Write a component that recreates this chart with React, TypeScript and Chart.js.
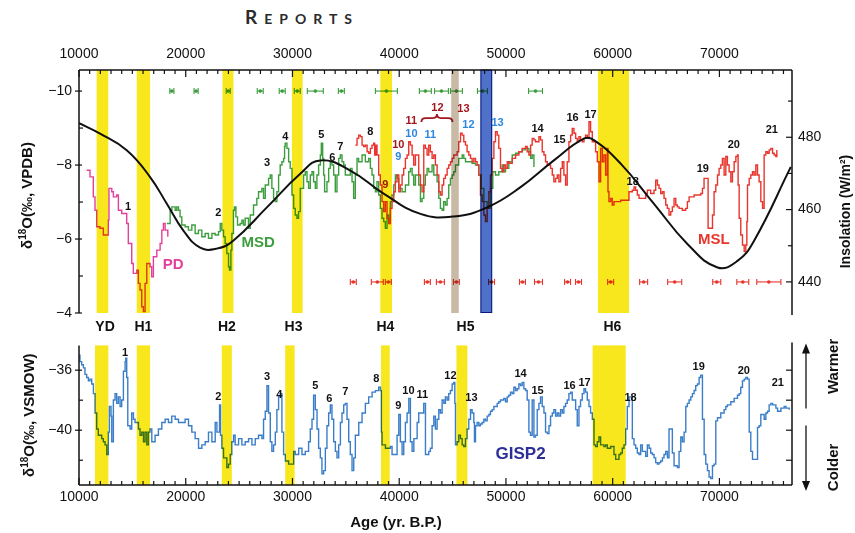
import React, { useEffect, useRef } from 'react';
import { Chart, registerables } from 'chart.js';
Chart.register(...registerables);

const FONT = '"Liberation Sans", Arial, Helvetica, sans-serif';

// ---------- axis ranges / ticks ----------
const AGE_MIN = 10000;
const AGE_MAX = 76800;
const AGE_TICKS = [10000, 20000, 30000, 40000, 50000, 60000, 70000];
const VPDB_TICKS = [-10, -8, -6, -4];
const VPDB_MINOR = [-9, -7, -5];
const INS_TICKS = [440, 460, 480];
const INS_MINOR = [450, 470, 490];
const VSMOW_TICKS = [-36, -40];
const VSMOW_MINOR = [-38, -42];

// ---------- series (age yr B.P., value) ----------
const PD: [number, number][] = [
  [10720, -7.86], [11030, -7.68], [11340, -7.14], [11500, -6.78], [11660, -6.33], [11970, -6.29], [12280, -6.11],
  [12600, -6.11], [12750, -6.51], [12810, -7.37], [13070, -7.28], [13220, -7.14], [13530, -7.19], [13690, -6.78],
  [14000, -6.69], [14310, -6.69], [14470, -6.42], [14620, -5.88], [14940, -5.34], [15090, -5.07], [15410, -5.16],
  [15560, -4.8], [15720, -4.62], [15880, -4.17], [16030, -4.04], [16190, -4.8], [16350, -5.34], [16660, -5.25],
  [16810, -4.98], [16970, -5.52], [17290, -5.7], [17600, -5.88], [17760, -6.24], [17910, -6.42], [18070, -6.24],
  [18320, -6.06],
];

const MSD: [number, number][] = [
  [18230, -6.42], [18540, -6.78], [18700, -6.87], [19010, -6.78], [19160, -6.87], [19320, -6.78], [19470, -6.6],
  [19630, -6.38], [19940, -6.33], [20250, -6.24], [20570, -6.38], [20880, -6.15], [21190, -6.24], [21510, -6.06],
  [21820, -6.15], [22130, -6.02], [22450, -6.15], [22760, -6.11], [23070, -6.2], [23230, -6.42], [23380, -6.24],
  [23540, -6.06], [23690, -5.88], [23850, -5.61], [24010, -5.25], [24100, -5.16], [24230, -5.7], [24320, -6.15],
  [24470, -6.78], [24570, -6.87], [24700, -6.6], [24850, -6.38], [25100, -6.42], [25260, -6.51], [25410, -6.38],
  [25570, -6.56], [25880, -6.29], [26040, -6.65], [26350, -6.92], [26660, -7.1], [26820, -7.28], [27130, -7.37],
  [27290, -7.1], [27450, -7.46], [27760, -7.64], [27920, -7.73], [28070, -7.37], [28230, -7.1], [28380, -7.01],
  [28540, -7.28], [28700, -7.73], [28850, -8.0], [29010, -8.09], [29170, -8.18], [29260, -8.5], [29320, -8.59],
  [29480, -8.45], [29640, -8.09], [29790, -7.91], [29950, -7.19], [30110, -6.83], [30260, -6.65], [30420, -6.56],
  [30570, -6.74], [30730, -7.37], [31040, -7.73], [31200, -7.82], [31360, -7.55], [31510, -7.37], [31670, -7.73],
  [31830, -7.82], [31980, -7.55], [32140, -7.37], [32290, -7.73], [32450, -8.0], [32610, -8.27], [32700, -8.59],
  [32830, -8.18], [32920, -7.73], [33010, -7.28], [33230, -7.55], [33390, -7.91], [33540, -8.09], [33700, -8.0],
  [33860, -7.73], [34010, -7.28], [34170, -7.73], [34330, -8.18], [34480, -8.27], [34640, -8.09], [34800, -8.0],
  [34950, -7.73], [35260, -7.73], [35420, -7.91], [35580, -7.55], [35730, -7.1], [35890, -7.73], [36050, -8.18],
  [36200, -8.09], [36520, -8.27], [36830, -8.09], [37140, -8.18], [37300, -7.91], [37450, -7.73], [37610, -7.37],
  [37770, -7.28], [37920, -7.55], [38080, -7.19], [38230, -6.83], [38390, -6.56], [38550, -6.47], [38700, -6.29],
  [38860, -6.65], [39020, -6.47], [39170, -7.01], [39330, -7.19], [39490, -7.46], [39640, -7.73], [39800, -7.64],
  [39960, -7.37], [40270, -7.28], [40580, -7.46], [40890, -7.82], [41050, -7.91], [41210, -7.73], [41360, -7.46],
  [41520, -7.73], [41830, -7.46], [41990, -7.01], [42140, -7.1], [42300, -7.46], [42450, -7.73], [42610, -7.91],
  [42770, -7.82], [43080, -8.0], [43240, -7.73], [43550, -7.55], [43710, -7.1], [43860, -6.83], [44020, -6.78],
  [44170, -7.01], [44330, -6.92], [44490, -7.1], [44640, -7.46], [44800, -7.64], [44960, -7.73], [45110, -7.82],
  [45270, -8.0], [45580, -8.18], [45900, -8.27], [46050, -8.18], [46210, -8.09], [46520, -8.09], [46830, -8.05],
  [47150, -8.0], [47460, -7.73], [47680, -7.37], [47930, -7.01], [48240, -6.83], [48550, -7.37], [48770, -7.82],
  [49020, -7.73], [49330, -7.82], [49650, -8.0], [49800, -7.82], [49960, -7.91], [50270, -8.09], [50590, -8.27],
  [50900, -8.32], [51210, -8.36], [51520, -8.41], [51840, -8.45], [52150, -8.36], [52310, -8.18], [52460, -8.27],
  [52620, -7.95],
];

const MSL: [number, number][] = [
  [35890, -8.54], [36050, -8.72], [36200, -8.81], [36360, -8.77], [36520, -8.54], [36670, -8.5], [36830, -8.54],
  [36990, -8.36], [37140, -8.32], [37300, -8.45], [37450, -8.54], [37610, -8.59], [37700, -8.27], [37830, -8.54],
  [37920, -8.27], [38080, -7.73], [38230, -7.46], [38390, -7.01], [38550, -6.74], [38700, -7.01], [38860, -6.56],
  [39020, -6.42], [39170, -6.83], [39330, -7.01], [39490, -7.28], [39640, -7.55], [39800, -7.73], [39960, -7.28],
  [40110, -7.46], [40270, -7.73], [40420, -7.91], [40580, -8.18], [40740, -8.27], [40890, -8.63], [41050, -8.54],
  [41210, -8.27], [41360, -8.0], [41520, -8.27], [41830, -7.73], [41990, -7.46], [42140, -7.28], [42300, -8.54],
  [42450, -8.45], [42610, -8.27], [42770, -8.54], [42920, -8.36], [43080, -8.18], [43240, -8.27], [43390, -8.0],
  [43550, -7.73], [43710, -7.28], [43860, -7.19], [44020, -7.46], [44170, -7.64], [44330, -7.73], [44490, -7.91],
  [44640, -8.0], [44800, -8.09], [44960, -8.18], [45110, -8.27], [45270, -8.27], [45430, -8.36], [45580, -8.63],
  [45740, -8.86], [45900, -8.81], [46050, -8.63], [46210, -8.54], [46360, -8.36], [46520, -8.27], [46680, -8.18],
  [46830, -8.09], [46990, -8.18], [47150, -8.09], [47300, -8.0], [47460, -7.73], [47610, -7.19], [47770, -7.01],
  [47930, -6.65], [48080, -6.47], [48240, -6.83], [48400, -7.28], [48550, -7.73], [48710, -8.18], [48870, -8.63],
  [49020, -8.9], [49180, -8.81], [49330, -8.45], [49490, -7.91], [49650, -7.82], [49800, -8.0], [49960, -7.91],
  [50120, -8.09], [50270, -8.05], [50590, -8.18], [50900, -8.27], [51210, -8.36], [51520, -8.45], [51840, -8.5],
  [51990, -8.36], [52150, -8.27], [52310, -8.54], [52460, -8.72], [52620, -8.68], [52770, -8.63], [53090, -8.77],
  [53240, -8.68], [53400, -8.36], [53560, -8.27], [53710, -8.09], [53870, -8.0], [54030, -8.0], [54180, -7.91],
  [54340, -7.73], [54490, -7.55], [54650, -7.64], [54810, -7.73], [54960, -7.55], [55120, -7.91], [55280, -8.09],
  [55430, -7.73], [55590, -7.46], [55740, -8.09], [55900, -8.63], [56060, -8.81], [56210, -8.99], [56370, -8.86],
  [56530, -8.72], [56680, -8.63], [56840, -8.77], [56990, -8.68], [57150, -8.63], [57310, -8.72], [57460, -8.81],
  [57620, -8.72], [57780, -9.17], [57930, -8.9], [58090, -8.63], [58400, -8.36], [58560, -8.09], [58720, -7.55],
  [58870, -8.45], [59030, -8.09], [59180, -8.27], [59340, -7.73], [59500, -8.45], [59560, -7.28], [59650, -7.01],
  [59810, -7.1], [59960, -6.92], [60120, -7.01], [60430, -7.01], [60750, -7.05], [61060, -7.05], [61370, -7.05],
  [61530, -7.28], [61840, -7.32], [62000, -7.41], [62150, -7.32], [62310, -7.19], [62470, -7.1], [62780, -7.1],
  [63090, -7.23], [63250, -7.32], [63560, -7.23], [63870, -7.32], [64030, -7.59], [64190, -7.46], [64340, -7.37],
  [64500, -7.23], [64660, -7.28], [64810, -7.1], [64970, -6.92], [65120, -6.83], [65280, -6.65], [65440, -6.74],
  [65590, -6.87], [65750, -7.1], [65910, -6.92], [66060, -6.87], [66220, -6.83], [66530, -6.78], [66840, -6.83],
  [67000, -7.01], [67160, -7.14], [67630, -7.19], [68250, -7.23], [68410, -7.37], [68560, -7.64], [68810, -7.64],
  [68940, -6.29], [69190, -6.29], [69350, -6.65], [69500, -7.28], [69660, -7.46], [69820, -7.73], [69970, -7.91],
  [70130, -8.0], [70280, -8.18], [70440, -7.73], [70600, -8.23], [70750, -8.0], [70910, -7.82], [71070, -7.55],
  [71220, -7.82], [71380, -8.09], [71540, -8.23], [71690, -8.27], [71750, -7.46], [71850, -6.56], [72000, -6.11],
  [72160, -5.84], [72320, -5.66], [72470, -5.84], [72570, -6.47], [72630, -7.46], [72790, -7.64], [72940, -7.73],
  [73100, -7.82], [73250, -7.73], [73410, -8.0], [73570, -7.73], [73720, -7.55], [73880, -7.01], [74040, -6.83],
  [74190, -8.27], [74350, -8.36], [74510, -8.32], [74660, -8.41], [74820, -8.45], [74980, -8.32], [75130, -8.27],
  [75290, -8.23], [75380, -8.41],
];

const INSOLATION: [number, number][] = [
  [10000, 483.9], [11970, 481.0], [14470, 476.4], [16660, 469.0], [18230, 461.6], [19780, 454.2], [21350, 449.5],
  [22900, 449.2], [24450, 451.4], [27600, 460.6], [30730, 469.9], [32610, 473.6], [35420, 470.8], [38540, 464.4],
  [41990, 458.8], [45110, 458.1], [48240, 460.6], [51370, 466.2], [54490, 473.6], [57300, 479.6], [58240, 479.2],
  [60750, 472.7], [63870, 461.6], [67000, 450.5], [69820, 444.0], [71690, 445.8], [73250, 451.4], [76690, 471.8],
];

const GISP2: [number, number][] = [
  [10000, -35.0], [10090, -35.43], [10250, -35.64], [10410, -35.85], [10560, -36.28], [10720, -36.49], [10880, -36.71],
  [11030, -36.6], [11190, -36.92], [11350, -37.56], [11500, -38.85], [11660, -39.92], [11810, -40.34], [12130, -40.56],
  [12280, -40.77], [12440, -40.98], [12600, -41.62], [12750, -40.13], [12850, -38.42], [13000, -39.06], [13070, -40.77],
  [13220, -37.99], [13380, -37.56], [13530, -38.21], [13690, -37.78], [13850, -38.42], [14000, -37.99], [14160, -36.07],
  [14320, -35.43], [14380, -35.21], [14470, -36.49], [14570, -39.7], [14790, -39.92], [14940, -38.85], [15100, -39.27],
  [15250, -39.49], [15570, -39.92], [15720, -40.34], [15880, -40.13], [16040, -40.77], [16190, -40.13], [16350, -40.98],
  [16500, -40.13], [16660, -39.92], [16820, -40.77], [17130, -40.34], [17440, -39.92], [17760, -39.49], [18070, -39.27],
  [18380, -39.49], [18690, -39.06], [19010, -39.27], [19320, -39.49], [19630, -39.49], [19940, -39.27], [20260, -39.7],
  [20570, -40.13], [20880, -40.56], [21200, -41.2], [21510, -40.98], [21820, -40.77], [22130, -40.13], [22450, -40.77],
  [22760, -39.49], [22920, -40.13], [23170, -38.31], [23260, -40.34], [23380, -41.2], [23540, -41.84], [23700, -41.84],
  [23850, -42.48], [24010, -42.26], [24170, -41.62], [24320, -40.77], [24480, -40.34], [24630, -40.98], [24950, -40.56],
  [25260, -40.98], [25570, -40.77], [25885, -40.56], [26200, -40.98], [26510, -40.56], [26820, -40.34], [27140, -40.56],
  [27290, -39.27], [27450, -38.74], [27610, -37.03], [27760, -38.85], [27920, -40.77], [28070, -41.41], [28230, -40.98],
  [28390, -40.13], [28540, -38.63], [28700, -37.78], [28860, -37.56], [29010, -40.13], [29170, -41.62], [29330, -42.05],
  [29640, -42.26], [29950, -42.26], [30110, -41.41], [30260, -41.62], [30580, -41.2], [30890, -41.62], [31200, -41.41],
  [31510, -40.77], [31670, -39.92], [31830, -39.27], [31980, -37.67], [32140, -38.63], [32300, -39.92], [32450, -41.2],
  [32610, -41.84], [32760, -42.9], [32920, -42.69], [33080, -41.2], [33230, -39.7], [33390, -38.85], [33550, -38.31],
  [33700, -39.27], [33860, -40.77], [34020, -41.41], [34170, -41.84], [34330, -40.98], [34490, -39.49], [34640, -38.85],
  [34800, -38.31], [34950, -38.21], [35110, -39.27], [35270, -40.77], [35420, -41.62], [35580, -42.69], [35740, -41.84],
  [35890, -40.34], [36210, -39.49], [36520, -38.85], [36830, -38.21], [37140, -37.78], [37460, -37.46], [37770, -37.36],
  [38080, -37.14], [38240, -37.36], [38330, -40.13], [38390, -40.98], [38710, -41.2], [39175, -41.09], [39330, -41.62],
  [39640, -41.62], [39800, -40.34], [39960, -38.95], [40110, -40.77], [40270, -41.62], [40425, -40.77], [40580, -39.49],
  [40740, -38.85], [40900, -37.88], [41050, -40.77], [41210, -41.41], [41370, -40.56], [41680, -39.49], [41830, -38.85],
  [42150, -38.85], [42300, -38.21], [42460, -41.62], [42770, -41.41], [42920, -41.2], [43080, -39.7], [43240, -39.06],
  [43390, -39.92], [43550, -39.27], [43710, -38.63], [43860, -38.85], [44020, -37.99], [44180, -38.21], [44330, -37.78],
  [44490, -37.99], [44640, -37.56], [44800, -37.35], [44960, -36.92], [45110, -36.81], [45210, -38.21], [45270, -40.98],
  [45420, -40.77], [45580, -40.34], [45740, -40.56], [45900, -40.98], [46050, -41.09], [46210, -40.56], [46360, -39.92],
  [46520, -39.27], [46680, -38.63], [46830, -38.85], [46990, -39.49], [47050, -40.77], [47145, -39.7], [47300, -39.49],
  [47460, -39.7], [47610, -39.59], [47770, -39.49], [47930, -39.27], [48080, -39.38], [48240, -39.06], [48400, -38.95],
  [48550, -38.74], [48710, -38.63], [48870, -38.42], [49020, -38.42], [49180, -38.21], [49330, -38.1], [49490, -37.99],
  [49650, -37.99], [49800, -37.88], [49960, -38.1], [50120, -37.78], [50270, -37.67], [50430, -37.46], [50590, -37.56],
  [50740, -37.14], [50900, -37.35], [51050, -37.24], [51210, -36.92], [51370, -37.03], [51520, -36.81], [51680, -37.24],
  [51840, -37.35], [51990, -37.99], [52150, -40.13], [52300, -40.34], [52460, -37.99], [52620, -40.45], [52770, -40.34],
  [52930, -38.63], [53090, -38.21], [53240, -37.78], [53400, -38.42], [53560, -38.85], [53710, -40.13], [53870, -40.23],
  [54030, -39.7], [54180, -39.06], [54340, -38.85], [54490, -38.63], [54650, -39.06], [54810, -38.85], [54960, -39.06],
  [55120, -38.63], [55280, -38.85], [55430, -38.42], [55590, -38.21], [55740, -37.99], [55900, -37.56], [56060, -37.46],
  [56210, -37.99], [56370, -37.99], [56530, -38.63], [56680, -39.7], [56840, -38.42], [56990, -37.99], [57150, -37.56],
  [57310, -37.24], [57460, -37.46], [57620, -37.99], [57780, -38.42], [57930, -38.85], [58090, -39.27], [58250, -40.98],
  [58400, -41.09], [58560, -40.77], [58715, -40.45], [58870, -40.98], [59180, -41.09], [59340, -40.98], [59500, -41.2],
  [59810, -41.09], [60120, -41.62], [60280, -41.94], [60440, -41.94], [60590, -41.62], [60750, -41.52], [60900, -41.2],
  [61060, -40.98], [61220, -39.92], [61370, -38.42], [61530, -37.78], [61690, -37.78], [61840, -40.56], [62000, -40.98],
  [62160, -41.2], [62310, -41.52], [62470, -41.62], [62620, -40.98], [62780, -41.41], [63090, -41.73], [63250, -40.98],
  [63410, -41.2], [63560, -41.52], [63720, -41.62], [63875, -41.84], [64030, -42.16], [64190, -42.26], [64340, -42.16],
  [64500, -42.05], [64660, -41.84], [64810, -41.62], [64970, -41.41], [65130, -41.84], [65280, -39.92], [65440, -39.92],
  [65590, -41.52], [65750, -42.37], [66060, -42.48], [66220, -41.41], [66380, -40.45], [66530, -40.77], [66690, -40.13],
  [66850, -38.42], [67000, -38.21], [67160, -37.99], [67320, -37.78], [67470, -37.56], [67630, -37.35], [67780, -37.03],
  [67940, -36.92], [68100, -36.49], [68250, -36.33], [68410, -39.27], [68570, -41.62], [68720, -42.26], [68880, -42.69],
  [69030, -43.12], [69190, -43.22], [69350, -42.37], [69500, -42.26], [69660, -39.38], [69820, -39.17], [70130, -38.85],
  [70440, -38.63], [70600, -38.42], [70750, -38.31], [71070, -38.1], [71380, -37.88], [71690, -37.67], [71850, -37.56],
  [72000, -37.14], [72160, -36.71], [72320, -36.6], [72470, -36.49], [72630, -36.6], [72790, -40.13], [72940, -41.41],
  [73100, -41.94], [73410, -41.94], [73570, -39.81], [73720, -39.7], [73880, -38.95], [74040, -38.95], [74190, -39.27],
  [74350, -38.85], [74510, -38.74], [74660, -38.31], [74820, -38.21], [74980, -38.31], [75130, -38.31], [75290, -38.53],
  [75450, -38.74], [75600, -38.74], [75760, -38.53], [75910, -38.53], [76070, -38.42], [76230, -38.53], [76380, -38.53],
  [76540, -38.63],
];

// U-Th ages with half widths
const MSD_AGE_ROW = -10;
const MSD_AGES = [18700, 20970, 23980, 26980, 29040, 30450, 32140, 34580, 38800, 42450, 43960, 45360, 47800, 52770];
const MSD_AGE_ERR = [190, 190, 190, 280, 280, 280, 750, 280, 1030, 560, 650, 560, 470, 650];
const MSL_AGE_ROW = -4.84;
const MSL_AGES = [35700, 37950, 38980, 42640, 43860, 45360, 48650, 51550, 53050, 55770, 56800, 59810, 62900, 65810, 69750, 72190, 74630];
const MSL_AGE_ERR = [280, 560, 280, 280, 375, 280, 280, 280, 375, 280, 280, 280, 375, 660, 375, 560, 1130];

// Event bands
const TOP_BAND_FROM = [11650, 15410, 23440, 29950, 38230, 44870, 47610, 58620];
const TOP_BAND_TO = [12740, 16660, 24470, 30950, 39330, 45580, 48710, 61530];
const TOP_BAND_KIND = ['y', 'y', 'y', 'y', 'y', 't', 'b', 'y'];
const BOT_BAND_FROM = [11500, 15410, 23380, 29320, 38300, 45360, 58120];
const BOT_BAND_TO = [12750, 16660, 24320, 30200, 39110, 46390, 61220];
const EVENT_NAMES = ['YD', 'H1', 'H2', 'H3', 'H4', 'H5', 'H6'];
const EVENT_AGES = [12440, 16030, 23850, 30100, 38700, 46210, 59970];

// Interstadial numbers [text, age, value, colour]
const TOP_NUMS: [string, number, number, string][] = [
  ['1', 14600, -6.86, 'k'], ['2', 23040, -6.7, 'k'], ['3', 27630, -8.05, 'k'], ['4', 29320, -8.76, 'k'],
  ['5', 32700, -8.81, 'k'], ['6', 33730, -8.19, 'k'], ['7', 34480, -8.49, 'k'], ['8', 37300, -8.89, 'k'],
  ['9', 38700, -7.46, 'r'], ['10', 39920, -8.54, 'r'], ['9', 39920, -8.22, 'b'], ['11', 41140, -9.19, 'r'],
  ['10', 41140, -8.84, 'b'], ['11', 42920, -8.81, 'b'], ['12', 43580, -9.54, 'r'], ['13', 46020, -9.51, 'r'],
  ['12', 46490, -9.08, 'b'], ['13', 49210, -9.14, 'b'], ['14', 52960, -8.97, 'k'], ['15', 55020, -8.68, 'k'],
  ['16', 56240, -9.27, 'k'], ['17', 57930, -9.35, 'k'], ['18', 61870, -7.54, 'k'], ['19', 68440, -7.89, 'k'],
  ['20', 71350, -8.54, 'k'], ['21', 74910, -8.95, 'k'],
];
const BOT_NUMS: [string, number, number][] = [
  ['1', 14310, -34.87], ['2', 23040, -37.76], ['3', 27630, -36.47], ['4', 28760, -37.63], ['5', 32140, -37.05],
  ['6', 33450, -37.95], ['7', 34950, -37.44], ['8', 37860, -36.6], ['9', 39920, -38.4], ['10', 40860, -37.37],
  ['11', 42170, -37.63], ['12', 44800, -36.41], ['13', 46770, -37.88], ['14', 51370, -36.22], ['15', 52960, -37.37],
  ['16', 55960, -37.05], ['17', 57370, -36.86], ['18', 61680, -37.88], ['19', 68060, -35.77], ['20', 72280, -36.03],
  ['21', 75470, -36.86],
];

// ---------- styles ----------
const PINK = '#e3409b';
const GREEN = '#3c9e3e';
const RED = '#e8352d';
const BLUE = '#3a7dc9';
const DARKRED = '#a3161c';
const NUMBLUE = '#2e86de';
const YELLOW = '#f7e71c';
const TAN = '#c9baa6';
const BANDBLUE = '#4f71c9';
const INK = '#111';

const pts = (a: [number, number][]) => a.map(([x, y]) => ({ x, y }));
const fmt = (v: number) => (v < 0 ? '\u2212' + Math.abs(v) : String(v));

function seg(ctx: CanvasRenderingContext2D, x0: number, y0: number, x1: number, y1: number) {
  ctx.beginPath();
  ctx.moveTo(x0, y0);
  ctx.lineTo(x1, y1);
  ctx.stroke();
}

function label(ctx: CanvasRenderingContext2D, s: string, x: number, y: number, font: string, color: string) {
  ctx.save();
  ctx.font = font;
  ctx.fillStyle = color;
  ctx.textAlign = 'center';
  ctx.textBaseline = 'middle';
  ctx.fillText(s, x, y);
  ctx.restore();
}

function vlabel(ctx: CanvasRenderingContext2D, s: string, x: number, y: number, font: string) {
  ctx.save();
  ctx.translate(x, y);
  ctx.rotate(-Math.PI / 2);
  ctx.font = font;
  ctx.fillStyle = INK;
  ctx.textAlign = 'center';
  ctx.textBaseline = 'middle';
  ctx.fillText(s, 0, 0);
  ctx.restore();
}

function deltaTitle(ctx: CanvasRenderingContext2D, cx: number, cy: number, rest: string) {
  ctx.save();
  ctx.translate(cx, cy);
  ctx.rotate(-Math.PI / 2);
  ctx.fillStyle = INK;
  ctx.textBaseline = 'alphabetic';
  const big = `bold 15px ${FONT}`;
  const small = `bold 10px ${FONT}`;
  ctx.font = big;
  const w1 = ctx.measureText('\u03b4').width;
  const w3 = ctx.measureText('O' + rest).width;
  ctx.font = small;
  const w2 = ctx.measureText('18').width;
  let x = -(w1 + w2 + w3) / 2;
  ctx.font = big;
  ctx.fillText('\u03b4', x, 5);
  x += w1;
  ctx.font = small;
  ctx.fillText('18', x, -1);
  x += w2;
  ctx.font = big;
  ctx.fillText('O' + rest, x, 5);
  ctx.restore();
}

function whiskers(ctx: CanvasRenderingContext2D, xs: any, y: number, ages: number[], errs: number[], color: string) {
  ctx.save();
  ctx.strokeStyle = color;
  ctx.lineWidth = 1.1;
  ages.forEach((a, i) => {
    const x0 = xs.getPixelForValue(a - errs[i]);
    const x1 = xs.getPixelForValue(a + errs[i]);
    seg(ctx, x0, y, x1, y);
    seg(ctx, x0, y - 3, x0, y + 3);
    seg(ctx, x1, y - 3, x1, y + 3);
  });
  ctx.restore();
}

function xTicks(ctx: CanvasRenderingContext2D, xs: any, y: number, dir: number) {
  ctx.save();
  ctx.strokeStyle = INK;
  ctx.lineWidth = 1.2;
  for (let v = AGE_MIN; v <= AGE_MAX; v += 1000) {
    const x = xs.getPixelForValue(v);
    const len = v % 10000 === 0 ? 7 : 4;
    seg(ctx, x, y, x, y + dir * len);
  }
  ctx.restore();
}

function yTicks(ctx: CanvasRenderingContext2D, ys: any, x: number, majors: number[], minors: number[], outLen: number, inLen: number, minLen: number, dir: number) {
  ctx.save();
  ctx.strokeStyle = INK;
  ctx.lineWidth = 1.2;
  majors.forEach((v) => {
    const y = ys.getPixelForValue(v);
    seg(ctx, x - dir * outLen, y, x + dir * inLen, y);
  });
  minors.forEach((v) => {
    const y = ys.getPixelForValue(v);
    seg(ctx, x, y, x + dir * minLen, y);
  });
  ctx.restore();
}

const numColor = (k: string) => (k === 'r' ? DARKRED : k === 'b' ? NUMBLUE : INK);

const topDecor = {
  id: 'topDecor',
  afterDatasetsDraw(chart: any) {
    const { ctx, chartArea: a } = chart;
    const xs = chart.scales.x;
    const ys = chart.scales.y;
    whiskers(ctx, xs, ys.getPixelForValue(MSD_AGE_ROW), MSD_AGES, MSD_AGE_ERR, GREEN);
    whiskers(ctx, xs, ys.getPixelForValue(MSL_AGE_ROW), MSL_AGES, MSL_AGE_ERR, RED);
    TOP_NUMS.forEach(([t, age, v, k]) =>
      label(ctx, t, xs.getPixelForValue(age), ys.getPixelForValue(v), `bold 11px ${FONT}`, numColor(k))
    );
    // brace marking interstadial 12
    const bx0 = xs.getPixelForValue(42080), bx1 = xs.getPixelForValue(44990), bxm = (bx0 + bx1) / 2;
    const by = ys.getPixelForValue(-9.27);
    ctx.save();
    ctx.strokeStyle = DARKRED;
    ctx.lineWidth = 1.8;
    ctx.beginPath();
    ctx.moveTo(bx0, by + 4);
    ctx.quadraticCurveTo(bx0, by, bx0 + 4, by);
    ctx.lineTo(bxm - 4, by);
    ctx.quadraticCurveTo(bxm, by, bxm, by - 4);
    ctx.quadraticCurveTo(bxm, by, bxm + 4, by);
    ctx.lineTo(bx1 - 4, by);
    ctx.quadraticCurveTo(bx1, by, bx1, by + 4);
    ctx.stroke();
    ctx.restore();
    // event bands, multiplied over the records
    ctx.save();
    ctx.globalCompositeOperation = 'multiply';
    TOP_BAND_FROM.forEach((f, i) => {
      const x0 = xs.getPixelForValue(f);
      const x1 = xs.getPixelForValue(TOP_BAND_TO[i]);
      const k = TOP_BAND_KIND[i];
      ctx.fillStyle = k === 'y' ? YELLOW : k === 't' ? TAN : BANDBLUE;
      ctx.fillRect(x0, a.top, x1 - x0, a.bottom - a.top);
      if (k === 'b') {
        ctx.strokeStyle = '#23359a';
        ctx.lineWidth = 1;
        ctx.strokeRect(x0 + 0.5, a.top, x1 - x0 - 1, a.bottom - a.top - 0.5);
      }
    });
    ctx.restore();
  },
  afterDraw(chart: any) {
    const { ctx, chartArea: a } = chart;
    const xs = chart.scales.x;
    const ys = chart.scales.y;
    const yi = chart.scales.yIns;
    ctx.save();
    ctx.strokeStyle = INK;
    ctx.lineWidth = 1.5;
    seg(ctx, a.left, a.top, a.right, a.top);
    seg(ctx, a.left, a.top, a.left, a.bottom);
    seg(ctx, a.right, a.top, a.right, a.bottom + 2);
    ctx.restore();
    xTicks(ctx, xs, a.top, 1);
    yTicks(ctx, ys, a.left, VPDB_TICKS, VPDB_MINOR, 4, 3, 4, 1);
    yTicks(ctx, yi, a.right, INS_TICKS, INS_MINOR, 0, 6, 4, -1);
    label(ctx, 'PD', xs.getPixelForValue(18820), ys.getPixelForValue(-5.3), `bold 15px ${FONT}`, PINK);
    label(ctx, 'MSD', xs.getPixelForValue(26790), ys.getPixelForValue(-5.89), `bold 15px ${FONT}`, GREEN);
    label(ctx, 'MSL', xs.getPixelForValue(69470), ys.getPixelForValue(-5.97), `bold 15px ${FONT}`, RED);
    EVENT_NAMES.forEach((n, i) =>
      label(ctx, n, xs.getPixelForValue(EVENT_AGES[i]), a.bottom + 14, `bold 14px ${FONT}`, INK)
    );
    deltaTitle(ctx, 27, (a.top + a.bottom) / 2 + 4, '(\u2030, VPDB)');
    vlabel(ctx, 'Insolation (W/m\u00b2)', 846, (a.top + a.bottom) / 2 + 20, `bold 14px ${FONT}`);
  },
};

const botDecor = {
  id: 'botDecor',
  afterDatasetsDraw(chart: any) {
    const { ctx, chartArea: a } = chart;
    const xs = chart.scales.x;
    const ys = chart.scales.y;
    BOT_NUMS.forEach(([t, age, v]) =>
      label(ctx, t, xs.getPixelForValue(age), ys.getPixelForValue(v), `bold 11px ${FONT}`, INK)
    );
    ctx.save();
    ctx.globalCompositeOperation = 'multiply';
    ctx.fillStyle = YELLOW;
    BOT_BAND_FROM.forEach((f, i) => {
      const x0 = xs.getPixelForValue(f);
      const x1 = xs.getPixelForValue(BOT_BAND_TO[i]);
      ctx.fillRect(x0, a.top, x1 - x0, a.bottom - a.top);
    });
    ctx.restore();
  },
  afterDraw(chart: any) {
    const { ctx, chartArea: a } = chart;
    const xs = chart.scales.x;
    const ys = chart.scales.y;
    ctx.save();
    ctx.strokeStyle = INK;
    ctx.lineWidth = 1.5;
    seg(ctx, a.left, a.top, a.left, a.bottom);
    seg(ctx, a.left, a.bottom, a.right, a.bottom);
    seg(ctx, a.right, a.top - 3, a.right, a.bottom);
    ctx.restore();
    xTicks(ctx, xs, a.bottom, -1);
    yTicks(ctx, ys, a.left, VSMOW_TICKS, VSMOW_MINOR, 4, 3, 4, 1);
    yTicks(ctx, ys, a.right, [...VSMOW_TICKS, ...VSMOW_MINOR], [], 0, 6, 0, -1);
    label(ctx, 'GISP2', xs.getPixelForValue(51370), ys.getPixelForValue(-41.6), `bold 17px ${FONT}`, '#2b2f96');
    deltaTitle(ctx, 29, (a.top + a.bottom) / 2, '(\u2030, VSMOW)');
    label(ctx, 'Age (yr. B.P.)', 396, a.bottom + 38, `bold 15px ${FONT}`, INK);
    const ax = a.right + 14;
    ctx.save();
    ctx.strokeStyle = INK;
    ctx.fillStyle = INK;
    ctx.lineWidth = 1.3;
    seg(ctx, ax, a.top + 4, ax, a.top + 63);
    seg(ctx, ax, a.top + 80, ax, a.bottom + 1);
    ctx.beginPath();
    ctx.moveTo(ax, a.top - 2);
    ctx.lineTo(ax - 4, a.top + 8);
    ctx.lineTo(ax + 4, a.top + 8);
    ctx.closePath();
    ctx.fill();
    ctx.beginPath();
    ctx.moveTo(ax, a.bottom + 6);
    ctx.lineTo(ax - 4, a.bottom - 4);
    ctx.lineTo(ax + 4, a.bottom - 4);
    ctx.closePath();
    ctx.fill();
    ctx.restore();
    vlabel(ctx, 'Warmer', a.right + 42, a.top + 21, `bold 15px ${FONT}`);
    vlabel(ctx, 'Colder', a.right + 42, a.top + 122, `bold 15px ${FONT}`);
  },
};

const tickFont = { family: FONT, size: 14 };

function ageAxis(position: string, padding: number, height: number) {
  return {
    type: 'linear',
    position,
    min: AGE_MIN,
    max: AGE_MAX,
    grid: { display: false, drawTicks: false },
    border: { display: false },
    ticks: { font: tickFont, color: INK, padding, maxRotation: 0, autoSkip: false, callback: (v: number) => String(v) },
    afterBuildTicks: (s: any) => { s.ticks = AGE_TICKS.map((value) => ({ value })); },
    afterFit: (s: any) => { s.height = height; },
  };
}

function valueAxis(position: string, min: number, max: number, ticks: number[], width: number, reverse: boolean, showLabels: boolean, padding: number) {
  return {
    type: 'linear',
    position,
    min,
    max,
    reverse,
    grid: { display: false, drawTicks: false },
    border: { display: false },
    ticks: { display: showLabels, font: tickFont, color: INK, padding, callback: (v: number) => fmt(v) },
    afterBuildTicks: (s: any) => { s.ticks = ticks.map((value) => ({ value })); },
    afterFit: (s: any) => { s.width = width; },
  };
}

export default function App() {
  const topRef = useRef<HTMLCanvasElement>(null);
  const botRef = useRef<HTMLCanvasElement>(null);

  useEffect(() => {
    const line = (data: [number, number][], color: string, yAxisID: string, width = 1.4) => ({
      data: pts(data),
      yAxisID,
      borderColor: color,
      backgroundColor: color,
      borderWidth: width,
      pointRadius: 0,
      stepped: true,
      fill: false,
    });
    const top = new Chart(topRef.current as HTMLCanvasElement, {
      type: 'line',
      data: {
        datasets: [
          {
            data: pts(INSOLATION), yAxisID: 'yIns', borderColor: INK, borderWidth: 2, pointRadius: 0,
            tension: 0.45, fill: false,
          },
          line(PD, PINK, 'y'),
          line(MSL, RED, 'y'),
          line(MSD, GREEN, 'y'),
          {
            data: MSD_AGES.map((x) => ({ x, y: MSD_AGE_ROW })), yAxisID: 'y', showLine: false,
            pointRadius: 1.8, pointBorderWidth: 0, pointBackgroundColor: GREEN,
          },
          {
            data: MSL_AGES.map((x) => ({ x, y: MSL_AGE_ROW })), yAxisID: 'y', showLine: false,
            pointRadius: 1.8, pointBorderWidth: 0, pointBackgroundColor: RED,
          },
        ],
      } as any,
      options: {
        animation: false,
        responsive: false,
        maintainAspectRatio: false,
        layout: { padding: { left: 0, right: 0, top: 0, bottom: 27 } },
        plugins: { legend: { display: false }, tooltip: { enabled: false } },
        scales: {
          x: ageAxis('top', 7, 30),
          y: valueAxis('left', -10.57, -4, VPDB_TICKS, 79, true, true, 7),
          yIns: valueAxis('right', 431.4, 498.6, INS_TICKS, 63, false, true, 6),
        },
      } as any,
      plugins: [topDecor],
    });
    const bot = new Chart(botRef.current as HTMLCanvasElement, {
      type: 'line',
      data: { datasets: [line(GISP2, BLUE, 'y', 1.4)] } as any,
      options: {
        animation: false,
        responsive: false,
        maintainAspectRatio: false,
        layout: { padding: { left: 0, right: 0, top: 10, bottom: 0 } },
        plugins: { legend: { display: false }, tooltip: { enabled: false } },
        scales: {
          x: ageAxis('bottom', 4, 48),
          y: valueAxis('left', -43.65, -34.35, VSMOW_TICKS, 79, false, true, 7),
          yR: valueAxis('right', -43.65, -34.35, [], 63, false, false, 6),
        },
      } as any,
      plugins: [botDecor],
    });
    return () => {
      top.destroy();
      bot.destroy();
    };
  }, []);

  return (
    <div style={{ position: 'absolute', left: 0, top: 0, width: 855, height: 533, background: '#fff', overflow: 'hidden' }}>
      <div
        style={{
          position: 'absolute', left: 245, top: 5, fontFamily: 'Lato, "DejaVu Sans", sans-serif', fontWeight: 700,
          color: '#2a2a2a', letterSpacing: '7px', fontSize: 14, lineHeight: '24px', whiteSpace: 'nowrap',
        }}
      >
        <span style={{ fontSize: 19 }}>R</span>EPORTS
      </div>
      <canvas ref={topRef} width={855} height={300} style={{ position: 'absolute', left: 0, top: 40, width: 855, height: 300 }} />
      <canvas ref={botRef} width={855} height={203} style={{ position: 'absolute', left: 0, top: 330, width: 855, height: 203 }} />
    </div>
  );
}
